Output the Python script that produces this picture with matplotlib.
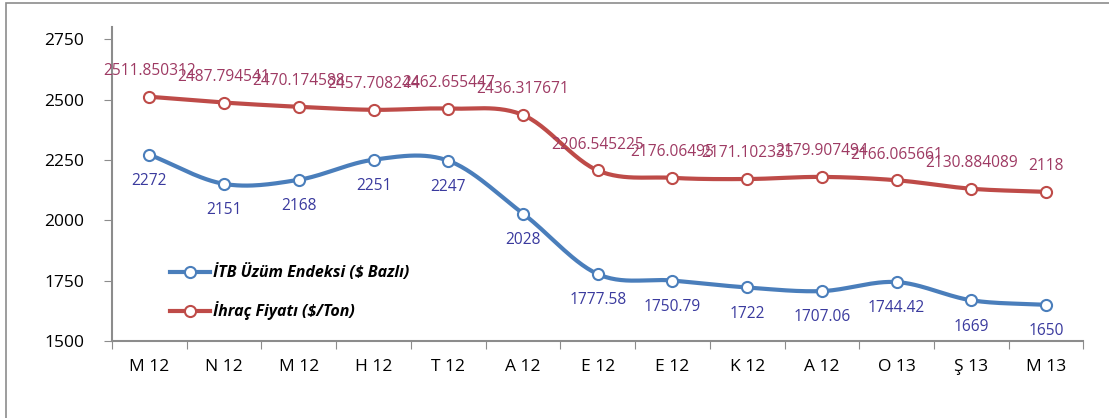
# Grafik: İTB Üzüm Endeksi ve İhraç Fiyatı
import numpy as np
import matplotlib.pyplot as plt
from matplotlib.patches import Rectangle
from matplotlib.lines import Line2D

# Veriler
aylar = ['M 12', 'N 12', 'M 12', 'H 12', 'T 12', 'A 12', 'E 12',
         'E 12', 'K 12', 'A 12', 'O 13', 'Ş 13', 'M 13']
endeks = [2272, 2151, 2168, 2251, 2247, 2028, 1777.58,
          1750.79, 1722, 1707.06, 1744.42, 1669, 1650]
endeks_etiket = ['2272', '2151', '2168', '2251', '2247', '2028', '1777.58',
                 '1750.79', '1722', '1707.06', '1744.42', '1669', '1650']
ihrac = [2511.850312, 2487.794541, 2470.174588, 2457.708244, 2462.655447,
         2436.317671, 2206.545225, 2176.06495, 2171.102335, 2179.907494,
         2166.065661, 2130.884089, 2118]
ihrac_etiket = ['2511.850312', '2487.794541', '2470.174588', '2457.708244',
                '2462.655447', '2436.317671', '2206.545225', '2176.06495',
                '2171.102335', '2179.907494', '2166.065661', '2130.884089',
                '2118']
y_ticks = [1500, 1750, 2000, 2250, 2500, 2750]

plt.rcParams['font.family'] = ['Open Sans', 'DejaVu Sans']

mavi = '#4a7ebb'
kirmizi = '#be4b48'


# Excel benzeri yumuşak çizgi (Catmull-Rom)
def yumusat(y, n=30):
    y = np.asarray(y, dtype=float)
    x = np.arange(len(y), dtype=float)
    xs, ys = [], []
    for i in range(len(y) - 1):
        p0 = y[max(i - 1, 0)]
        p1 = y[i]
        p2 = y[i + 1]
        p3 = y[min(i + 2, len(y) - 1)]
        m1 = (p2 - p0) / 2 if i > 0 else (p2 - p1)
        m2 = (p3 - p1) / 2 if i + 2 < len(y) else (p2 - p1)
        t = np.linspace(0, 1, n)
        h00 = 2 * t**3 - 3 * t**2 + 1
        h10 = t**3 - 2 * t**2 + t
        h01 = -2 * t**3 + 3 * t**2
        h11 = t**3 - t**2
        xs.append(x[i] + t)
        ys.append(h00 * p1 + h10 * m1 + h01 * p2 + h11 * m2)
    return np.concatenate(xs), np.concatenate(ys)


fig = plt.figure(figsize=(11.09, 4.18), dpi=100)
ax = fig.add_axes([0.101, 0.184, 0.876, 0.751])

# Dış çerçeve
fig.patches.append(Rectangle((6 / 1109, -0.1), 1.2, 0.1 + 1 - 3 / 418,
                             transform=fig.transFigure, fill=False,
                             edgecolor='#8c8c8c', linewidth=1.2))

xpos = np.arange(len(aylar))
for veri, renk in [(endeks, mavi), (ihrac, kirmizi)]:
    sx, sy = yumusat(veri)
    ax.plot(sx, sy, color=renk, linewidth=3, solid_capstyle='round', zorder=2)
    ax.plot(xpos, veri, linestyle='none', marker='o', markersize=8,
            markerfacecolor='white', markeredgecolor=renk,
            markeredgewidth=1.5, zorder=3)

for x, v, t in zip(xpos, endeks, endeks_etiket):
    ax.annotate(t, (x, v), xytext=(0, -19), textcoords='offset points',
                ha='center', va='center', fontsize=11.2, color='#3a3a9e')
for x, v, t in zip(xpos, ihrac, ihrac_etiket):
    ax.annotate(t, (x, v), xytext=(0, 18.5), textcoords='offset points',
                ha='center', va='center', fontsize=11.2, color='#9e3a63')

ax.set_xlim(-0.5, len(aylar) - 0.5)
ax.set_ylim(1500, 2800)
ax.set_yticks(y_ticks)
ax.set_yticklabels([str(v) for v in y_ticks], fontsize=12.5)
ax.set_xticks(np.arange(-0.5, len(aylar)), labels=[''] * (len(aylar) + 1))
ax.set_xticks(xpos, labels=aylar, minor=True, fontsize=12.5)
ax.tick_params(axis='x', which='minor', length=0, pad=13)
ax.tick_params(axis='x', which='major', length=6, color='#8c8c8c')
ax.tick_params(axis='y', length=6, color='#8c8c8c', pad=14)

for s in ['top', 'right']:
    ax.spines[s].set_visible(False)
for s in ['left', 'bottom']:
    ax.spines[s].set_color('#8c8c8c')
    ax.spines[s].set_linewidth(1.5)

tutucular = [
    Line2D([], [], color=mavi, linewidth=3, marker='o', markersize=8,
           markerfacecolor='white', markeredgecolor=mavi, markeredgewidth=1.5),
    Line2D([], [], color=kirmizi, linewidth=3, marker='o', markersize=8,
           markerfacecolor='white', markeredgecolor=kirmizi, markeredgewidth=1.5),
]
ax.legend(tutucular, ['İTB Üzüm Endeksi ($ Bazlı)', 'İhraç Fiyatı ($/Ton)'],
          loc='upper left', bbox_to_anchor=(0.045, 0.29), frameon=False,
          handlelength=2.5, handletextpad=0.2, labelspacing=1.25,
          prop={'weight': 'bold', 'style': 'italic', 'size': 11.5})

fig.savefig('out.png', dpi=100)
